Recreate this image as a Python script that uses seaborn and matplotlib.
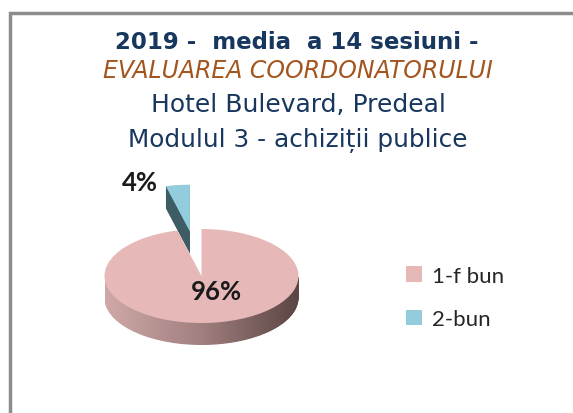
import numpy as np
import matplotlib
matplotlib.use("Agg")
import matplotlib.pyplot as plt
import seaborn as sns
from matplotlib.patches import Rectangle
from matplotlib.colors import LinearSegmentedColormap

# chart data
categories = ["1-f bun", "2-bun"]
values = [96, 4]
explode = [0, 0.95]
title_lines = ["2019 -  media  a 14 sesiuni -",
               "EVALUAREA COORDONATORULUI",
               "Hotel Bulevard, Predeal",
               "Modulul 3 - achiziții publice"]

sns.set_style("white")
plt.rcParams['font.family'] = ['DejaVu Sans']

W, H = 573, 414
fig = plt.figure(figsize=(W / 100, H / 100), dpi=100)


def fx(x):
    return x / W


def fy(y):
    return 1 - y / H


# outer frame (only top and left visible)
fig.patches.append(Rectangle((fx(10), fy(440)), 1.2, fy(14) - fy(440), transform=fig.transFigure,
                             fill=False, edgecolor="#8c8c8c", linewidth=2.5, clip_on=False))

# title
navy = "#17375E"
fig.text(fx(297), fy(49), title_lines[0], ha="center", va="baseline", fontsize=16.5,
         fontweight="bold", color=navy)
fig.text(fx(298), fy(78), title_lines[1], ha="center", va="baseline", fontsize=17,
         fontstyle="italic", color="#A3551D")
fig.text(fx(298), fy(112), title_lines[2], ha="center", va="baseline", fontsize=18, color=navy)
fig.text(fx(298), fy(147), title_lines[3], ha="center", va="baseline", fontsize=17.8, color=navy)

# pseudo 3D pie: layers for the side, flat pie on top
cx, cy, rx, ry = 201.5, 277, 97, 47
depth = 22 / ry
ax = fig.add_axes([0, 0, 1, 1])
top_colors = ["#E6B9B8", "#93CDDD"]
side_cmap = LinearSegmentedColormap.from_list("side", ["#CFA9A8", "#A07F7E", "#5A4543"])
start = 90 + 360 * values[1] / sum(values)
grad = np.linspace(0, 1, 256).reshape(1, -1)

n_layers = 40
for i, t in enumerate(np.linspace(depth, 0, n_layers, endpoint=False)):
    wedges, _ = ax.pie(values, explode=explode, colors=["none", "#3D5C63"], startangle=start,
                       center=(0, -t), radius=1, frame=True,
                       wedgeprops=dict(linewidth=0, zorder=i))
    im = ax.imshow(grad, cmap=side_cmap, extent=[-1, 1, -t - 1, -t], aspect="auto",
                   zorder=i + 0.5, interpolation="bilinear")
    im.set_clip_path(wedges[0])

top_wedges, _ = ax.pie(values, explode=explode, colors=top_colors, startangle=start,
                       center=(0, 0), radius=1, frame=True,
                       wedgeprops=dict(linewidth=0, zorder=n_layers + 1))

ax.set_aspect("auto")
ax.set_xlim(-cx / rx, (W - cx) / rx)
ax.set_ylim(-(H - cy) / ry, cy / ry)
ax.axis("off")

# percentage labels
fig.text(fx(140), fy(191), f"{values[1]}%", ha="center", va="baseline", fontsize=18.5,
         fontweight="bold", family="Lato", color="#1a1a1a")
fig.text(fx(216), fy(300), f"{values[0]}%", ha="center", va="baseline", fontsize=18.5,
         fontweight="bold", family="Lato", color="#1a1a1a")

leg = ax.legend(top_wedges, categories, loc="upper left", bbox_to_anchor=(fx(386), fy(247)),
                bbox_transform=fig.transFigure, frameon=False, handlelength=0.7, handleheight=0.7,
                handletextpad=0.45, labelspacing=1.05, prop=dict(family="Lato", size=16))
for txt in leg.get_texts():
    txt.set_color("#262626")

fig.savefig("out.png", dpi=100)
